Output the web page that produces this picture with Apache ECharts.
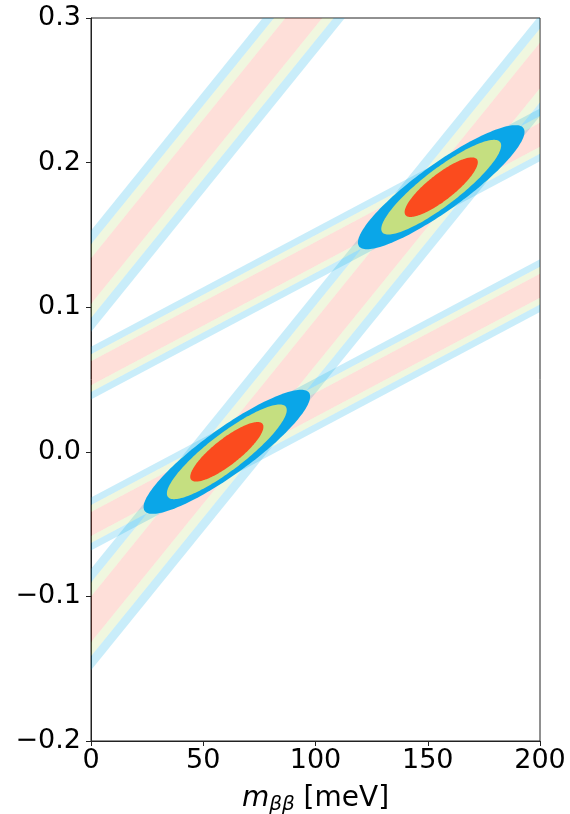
<!DOCTYPE html>
<html>
<head>
<meta charset="utf-8">
<script src="https://cdn.jsdelivr.net/npm/echarts@6/dist/echarts.min.js"></script>
<style>
html,body{margin:0;padding:0;background:#fff;}
#chart{width:570px;height:814px;}
</style>
</head>
<body>
<div id="chart"></div>
<script>
// ---- data ----
const xTicks = [0, 50, 100, 150, 200];
const yTicks = [-0.2, -0.1, 0.0, 0.1, 0.2, 0.3];

// linear bands y = intercept + slope * m
const bandIntercepts = [0.118, -0.1159, 0.0544, -0.0499];
const bandSlopes     = [0.00192, 0.001916, 0.000824, 0.000824];
// half-widths (in y) of the 1st, 2nd, 3rd layer of each band
const bandHalf1 = [0.0158, 0.0158, 0.0083, 0.0083];
const bandHalf2 = [0.0255, 0.0255, 0.0131, 0.0131];
const bandHalf3 = [0.0351, 0.0351, 0.0183, 0.0183];

// allowed regions (ellipses) at band crossings
const ellipseCenterX = [60.5, 156.0];
const ellipseCenterY = [0.0, 0.183];
// per contour level (inner, middle, outer)
const ellipseHalfX = [16.3, 26.7, 37.1];   // meV, half extent in m
const ellipseHalfY = [0.0112, 0.0155, 0.0195]; // half thickness at centre
const ellipseTilt  = [0.00106, 0.00108, 0.00103]; // slope of the tip-to-tip line

// ---- styles ----
const bandColors = ['rgba(250, 85, 55, 0.19)', 'rgba(185, 218, 110, 0.22)', 'rgba(0, 170, 230, 0.21)'];
const ellipseColors = ['#fb4b1e', '#c5df80', '#0aa6e8'];
const FONT = 'DejaVu Sans';

// build band strip items: [intercept, slope, lo, hi, layer]
const bandItems = [];
for (let i = 0; i < bandIntercepts.length; i++) {
  const h = [0, bandHalf1[i], bandHalf2[i], bandHalf3[i]];
  bandItems.push([bandIntercepts[i], bandSlopes[i], -h[1], h[1], 0]);
  for (let l = 1; l < 3; l++) {
    bandItems.push([bandIntercepts[i], bandSlopes[i], h[l], h[l + 1], l]);
    bandItems.push([bandIntercepts[i], bandSlopes[i], -h[l + 1], -h[l], l]);
  }
}
// ellipse items: [cx, cy, hx, hy, tilt, level]; outer first
const ellipseItems = [];
for (let e = 0; e < ellipseCenterX.length; e++) {
  for (let l = 2; l >= 0; l--) {
    ellipseItems.push([ellipseCenterX[e], ellipseCenterY[e], ellipseHalfX[l], ellipseHalfY[l], ellipseTilt[l], l]);
  }
}

const X0 = xTicks[0], X1 = xTicks[xTicks.length - 1];

function clipOf(params) {
  const c = params.coordSys;
  return {type: 'rect', shape: {x: c.x, y: c.y, width: c.width, height: c.height}};
}

const chart = echarts.init(document.getElementById('chart'), null, {renderer: 'canvas'});
const axisColor = '#222';
chart.setOption({
  animation: false,
  backgroundColor: '#fff',
  grid: {left: 91, right: 30, top: 18, bottom: 73, containLabel: false, outerBoundsMode: 'none',
         show: true, borderColor: axisColor, borderWidth: 1, backgroundColor: 'transparent'},
  xAxis: {
    type: 'value', min: X0, max: X1, interval: 50,
    axisLine: {show: true, onZero: false, lineStyle: {color: axisColor, width: 1}},
    axisTick: {show: true, length: 5, lineStyle: {color: axisColor}},
    splitLine: {show: false},
    axisLabel: {fontSize: 27, color: '#000', fontFamily: FONT, margin: 6},
    name: '{i|m}{s|ββ}{n| [meV]}',
    nameLocation: 'middle',
    nameGap: 41,
    nameTextStyle: {
      fontSize: 28, color: '#000', fontFamily: FONT,
      rich: {
        i: {fontSize: 28, fontStyle: 'italic', fontFamily: FONT, color: '#000'},
        s: {fontSize: 20, fontStyle: 'italic', fontFamily: FONT, color: '#000', padding: [13, 0, 0, 0]},
        n: {fontSize: 28, fontFamily: FONT, color: '#000'}
      }
    }
  },
  yAxis: {
    type: 'value', min: yTicks[0], max: yTicks[yTicks.length - 1], interval: 0.1,
    axisLine: {show: true, onZero: false, lineStyle: {color: axisColor, width: 1}},
    axisTick: {show: true, length: 5, lineStyle: {color: axisColor}},
    splitLine: {show: false},
    axisLabel: {
      fontSize: 27, color: '#000', fontFamily: FONT, margin: 10,
      formatter: function (v) {
        if (Math.abs(v) < 1e-9) return '0.0';
        return v.toFixed(1).replace('-', '\u2212');
      }
    }
  },
  series: [
    {
      type: 'custom',
      data: bandItems,
      encode: {x: -1, y: -1},
      z: 2,
      renderItem: function (params, api) {
        const a = api.value(0), b = api.value(1), lo = api.value(2), hi = api.value(3), layer = api.value(4);
        const pts = [[X0, a + b * X0 + lo], [X1, a + b * X1 + lo], [X1, a + b * X1 + hi], [X0, a + b * X0 + hi]]
          .map(function (p) { return api.coord(p); });
        return {
          type: 'polygon',
          shape: {points: pts},
          style: {fill: bandColors[layer], stroke: null},
          clipPath: clipOf(params)
        };
      }
    },
    {
      type: 'custom',
      data: ellipseItems,
      encode: {x: 0, y: 1},
      z: 3,
      renderItem: function (params, api) {
        const cx = api.value(0), cy = api.value(1), hx = api.value(2), hy = api.value(3), k = api.value(4), lvl = api.value(5);
        const pts = [];
        const N = 160;
        for (let j = 0; j < N; j++) {
          const t = 2 * Math.PI * j / N;
          const x = cx + hx * Math.cos(t);
          const y = cy + hx * k * Math.cos(t) + hy * Math.sin(t);
          pts.push(api.coord([x, y]));
        }
        return {
          type: 'polygon',
          shape: {points: pts},
          style: {fill: ellipseColors[lvl], stroke: null},
          clipPath: clipOf(params)
        };
      }
    }
  ]
});
</script>
</body>
</html>
